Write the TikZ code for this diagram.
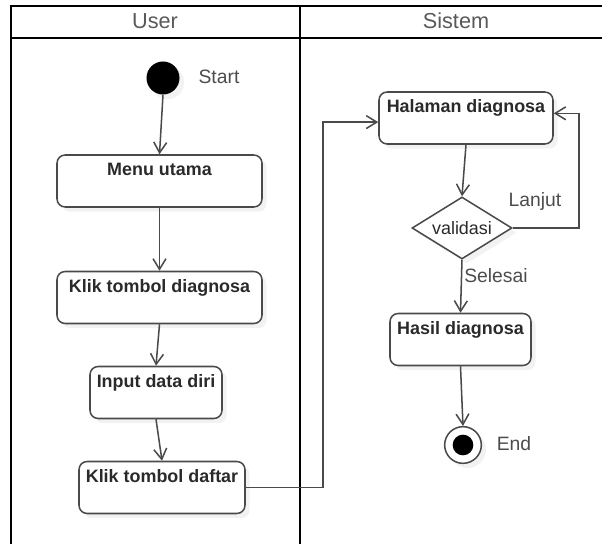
\documentclass[tikz,border=0pt]{standalone}
\usepackage{fontspec}
\setmainfont{Liberation Sans}
\usetikzlibrary{shapes.geometric,arrows.meta,shadows}

\definecolor{garis}{HTML}{4A4A4A}
\definecolor{teks}{HTML}{2A2A2A}

\tikzset{
  bayang/.style={drop shadow={shadow xshift=4pt,shadow yshift=-4pt,opacity=0.1}},
  aksi/.style={draw=garis, line width=1.3pt, rounded corners=7pt, fill=white, bayang,
    font=\fontsize{15.3}{18}\selectfont\bfseries, text=teks,
    inner sep=0.15cm, text height=0.48cm, text depth=0.78cm},
  keputusan/.style={diamond, aspect=1.6, draw=garis, line width=1.3pt, fill=white, bayang,
    minimum width=3cm, minimum height=1.86cm, inner sep=0pt,
    font=\fontsize{15.3}{18}\selectfont, text=teks},
  mulai/.style={circle, fill=black, minimum size=0.99cm, inner sep=0pt, bayang},
  akhir/.style={circle, draw=garis, line width=1.3pt, fill=white, minimum size=1.1cm,
    inner sep=0pt, bayang,
    path picture={\fill[black] (path picture bounding box.center) circle (0.31cm);}},
  alur/.style={draw=garis, line width=1.3pt, -{Straight Barb[length=9pt,width=11pt]}},
  ket/.style={font=\fontsize{16.5}{20}\selectfont, text=black!70},
  lajur/.style={font=\fontsize{18.5}{22}\selectfont, text=black!65},
}

\begin{document}
\begin{tikzpicture}[x=0.03cm,y=-0.03cm]
\useasboundingbox (0,0) rectangle (602,544);

% swimlanes
\draw[line width=2.4pt] (11,544) -- (11,6) -- (602,6);
\draw[line width=2.4pt] (11,38) -- (602,38);
\draw[line width=2.4pt] (300,6) -- (300,544);
\node[lajur] (user) at (155,21) {User};
\node[lajur] (sistem) at (456,21) {Sistem};

% lajur user
\node[mulai] (start) at (163,78) {};
\node[ket] (lblstart) at (219,77) {Start};
\node[aksi,minimum width=6.15cm] (menu) at (159.5,181) {Menu utama};
\node[aksi,minimum width=6.15cm] (klik) at (159.5,297.5) {Klik tombol diagnosa};
\node[aksi,minimum width=3.96cm] (input) at (156,392.5) {Input data diri};
\node[aksi,minimum width=4.98cm] (daftar) at (162,487.5) {Klik tombol daftar};

% lajur sistem
\node[aksi,minimum width=5.22cm] (halaman) at (466,118) {Halaman diagnosa};
\node[keputusan] (validasi) at (462,228) {validasi};
\node[aksi,minimum width=4.23cm] (hasil) at (460.5,339.5) {Hasil diagnosa};
\node[akhir] (end) at (463,445) {};
\node[ket] (lblend) at (514,444) {End};

\node[ket] (lanjut) at (535,202) {Lanjut};
\node[ket] (selesai) at (496,276) {Selesai};

% alur
\coordinate (belok) at (323,0);
\coordinate (balik) at (579,0);
\coordinate (masuk) at ([yshift=-3.5pt]halaman.west);
\coordinate (ulang) at ([yshift=4pt]halaman.east);

\draw[alur] (start.south) -- (menu.north);
\draw[alur] (menu.south) -- (klik.north);
\draw[alur] (klik.south) -- (input.north);
\draw[alur] (input.south) -- (daftar.north);
\draw[alur] (daftar.east) -| (belok |- masuk) -- (masuk);
\draw[alur] (halaman.south) -- (validasi.north);
\draw[alur] (validasi.east) -- (balik |- validasi.east) |- (ulang);
\draw[alur] (validasi.south) -- (hasil.north);
\draw[alur] (hasil.south) -- (end.north);
\end{tikzpicture}
\end{document}
